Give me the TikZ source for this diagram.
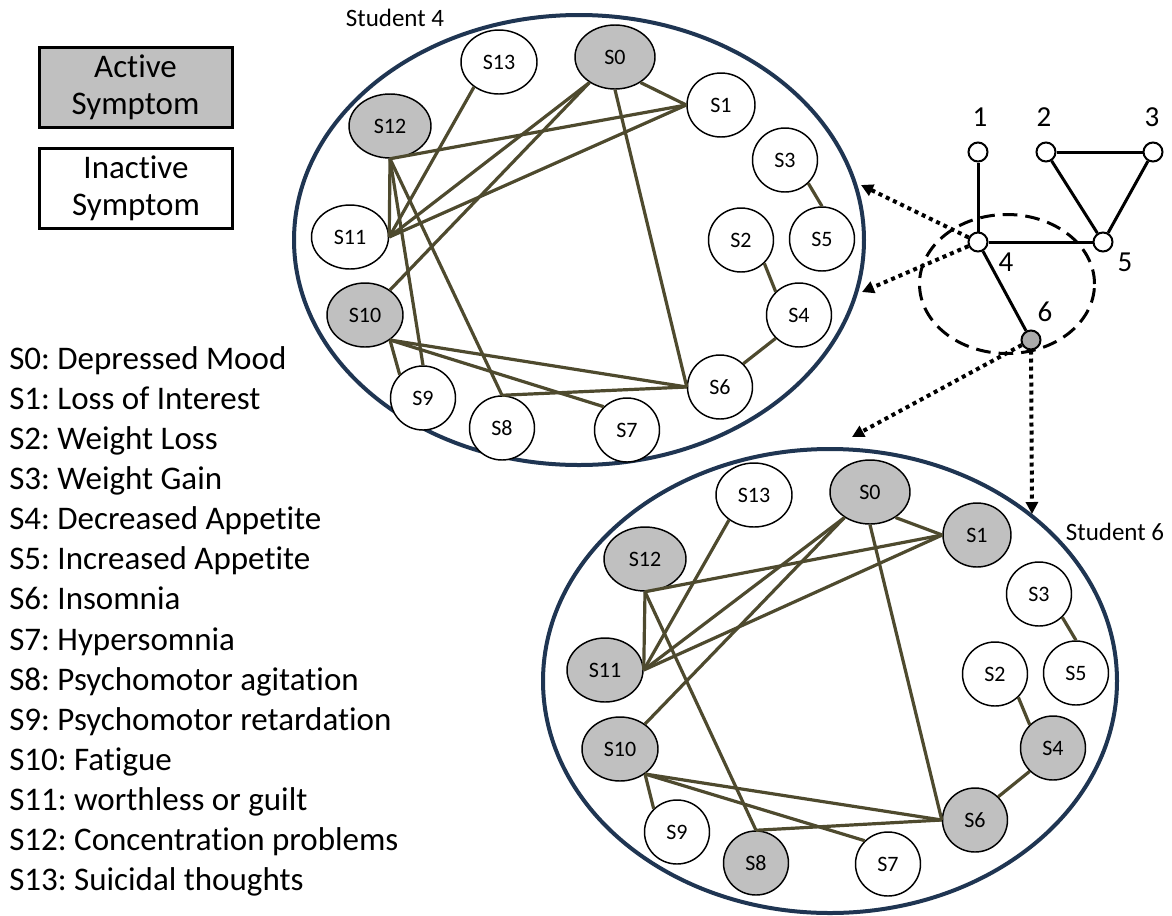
\documentclass[tikz,border=0pt]{standalone}
\usepackage{fontspec}
\setmainfont{Carlito}[Ligatures=NoCommon]
\frenchspacing
\usetikzlibrary{arrows.meta,shapes.geometric}
\definecolor{active}{HTML}{C0C0C0}
\definecolor{hub}{HTML}{ABABAB}
\definecolor{frame}{HTML}{1F3552}
\definecolor{tiecol}{HTML}{4E4A2E}

\begin{document}
\begin{tikzpicture}[x=0.75pt,y=-0.75pt,
  sym/.style={draw,ellipse,line width=1.1pt,inner sep=0pt,minimum width=48.75pt,minimum height=48pt,fill=white,font=\fontsize{16.5}{18}\selectfont},
  on/.style={fill=active},
  wide/.style={minimum width=#1},
  assoc/.style={draw=tiecol,line width=2.4pt},
  student/.style={draw=frame,ellipse,line width=3pt,inner sep=0pt},
  keybox/.style={draw,line width=2.25pt,inner sep=0pt,minimum width=144.75pt,minimum height=60pt,align=center,font=\fontsize{24.75}{27.75}\selectfont},
  vtx/.style={draw,circle,line width=1.5pt,inner sep=0pt,minimum size=14.25pt,fill=white},
  num/.style={inner sep=0pt,font=\fontsize{21.75}{24}\selectfont},
  edge/.style={line width=2.25pt},
  pointer/.style={line width=3pt,dash pattern=on 3pt off 3pt,-{Triangle[length=9pt,width=9pt]}},
]
  \useasboundingbox (0,0) rectangle (1172,915);

  % legend
  \node[keybox,fill=active] (kact) at (135.5,87) {Active\\Symptom};
  \node[keybox] (kin) at (136,188) {Inactive\\Symptom};
  \foreach \txt [count=\i from 0] in {S0: Depressed Mood,S1: Loss of Interest,S2: Weight Loss,
      S3: Weight Gain,S4: Decreased Appetite,S5: Increased Appetite,S6: Insomnia,S7: Hypersomnia,
      S8: Psychomotor agitation,S9: Psychomotor retardation,S10: Fatigue,S11: worthless or guilt,
      S12: Concentration problems,S13: Suicidal thoughts}
    \node[anchor=base west,inner sep=0pt,font=\fontsize{24.75}{30}\selectfont] (def\i) at (9,{369+40.15*\i}) {\txt};

  % student 4
  \node[student,minimum width=427.5pt,minimum height=337.5pt] (stu4) at (579,240) {};
  \node[font=\fontsize{18.75}{20}\selectfont] (lab4) at (395,18) {Student 4};
  \node[sym,on,wide=60pt] (A0) at (615,57) {S0};
  \node[sym,wide=51pt] (A1) at (721,105) {S1};
  \node[sym] (A2) at (741,240) {S2};
  \node[sym] (A3) at (785,160) {S3};
  \node[sym] (A4) at (799,315) {S4};
  \node[sym] (A5) at (822,239) {S5};
  \node[sym] (A6) at (720,387) {S6};
  \node[sym] (A7) at (627,430) {S7};
  \node[sym] (A8) at (502,428) {S8};
  \node[sym] (A9) at (423,398) {S9};
  \node[sym,on,wide=57pt] (A10) at (365,315) {S10};
  \node[sym,wide=57.75pt] (A11) at (350,237) {S11};
  \node[sym,on,wide=61.5pt] (A12) at (390,126) {S12};
  \node[sym,wide=57pt] (A13) at (499,62) {S13};
  \foreach \p/\q in {0.-45/1.west,0.south/6.west,0.-135/11.east,0.-135/10.45,
      1.west/12.south,1.west/11.east,13.-135/11.east,12.south/11.east,12.south/9.north,
      12.south/8.north,10.-45/9.135,10.-45/6.west,10.-45/7.135,8.north/6.west,
      3.-45/5.north,2.-45/4.135,4.-135/6.45}
    \draw[assoc] (A\p) -- (A\q);

  % student 6
  \node[student,minimum width=430.5pt,minimum height=348pt] (stu6) at (830,681) {};
  \node[font=\fontsize{18.75}{20}\selectfont] (lab6) at (1115,532) {Student 6};
  \node[sym,on,wide=60pt] (B0) at (870,492) {S0};
  \node[sym,on,wide=51pt] (B1) at (977,535) {S1};
  \node[sym] (B2) at (995,674) {S2};
  \node[sym] (B3) at (1039,594) {S3};
  \node[sym,on] (B4) at (1053,748) {S4};
  \node[sym] (B5) at (1076,673) {S5};
  \node[sym,on] (B6) at (975,820) {S6};
  \node[sym] (B7) at (888,864) {S7};
  \node[sym,on] (B8) at (756,863) {S8};
  \node[sym] (B9) at (677,832) {S9};
  \node[sym,on,wide=57pt] (B10) at (620,749) {S10};
  \node[sym,on,wide=57pt] (B11) at (605,670) {S11};
  \node[sym,on,wide=61.5pt] (B12) at (645,559) {S12};
  \node[sym,wide=57pt] (B13) at (754,495) {S13};
  \foreach \p/\q in {0.-45/1.west,0.south/6.west,0.-135/11.east,0.-135/10.45,
      1.west/12.south,1.west/11.east,13.-135/11.east,12.south/11.east,
      12.south/8.north,10.-45/9.135,10.-45/6.west,10.-45/7.135,8.north/6.west,
      3.-45/5.north,2.-45/4.135,4.-135/6.45}
    \draw[assoc] (B\p) -- (B\q);

  % friendship graph
  \node[draw,ellipse,line width=2.25pt,dash pattern=on 11pt off 6pt,minimum width=131.25pt,minimum height=104.25pt] (nbhd) at (1007,284) {};
  \node[vtx] (n1) at (978,152) {};
  \node[vtx] (n2) at (1046,152) {};
  \node[vtx] (n3) at (1153,152) {};
  \node[vtx] (n4) at (978,242) {};
  \node[vtx] (n5) at (1103,242) {};
  \node[vtx,fill=hub] (n6) at (1031,340) {};
  \draw[edge] (n1) -- (n4);
  \draw[edge] (n2) -- (n3);
  \draw[edge] (n2) -- (n5);
  \draw[edge] (n3) -- (n5);
  \draw[edge] (n4) -- (n5);
  \draw[edge] (n4) -- (n6);
  \node[num] (t1) at (980,117) {1};
  \node[num] (t2) at (1044,117) {2};
  \node[num] (t3) at (1152,117) {3};
  \node[num] (t4) at (1006,262) {4};
  \node[num] (t5) at (1125,262) {5};
  \node[num] (t6) at (1045,312) {6};

  % links to the students
  \coordinate (tipA) at (861,185);
  \coordinate (tipB) at (862,292);
  \coordinate (tipC) at (852,437);
  \coordinate (tipD) at (1032,514);
  \draw[pointer] (n4) -- (tipA);
  \draw[pointer] (n4) -- (tipB);
  \draw[pointer] (n6) -- (tipC);
  \draw[pointer] (n6) -- (tipD);
\end{tikzpicture}
\end{document}
